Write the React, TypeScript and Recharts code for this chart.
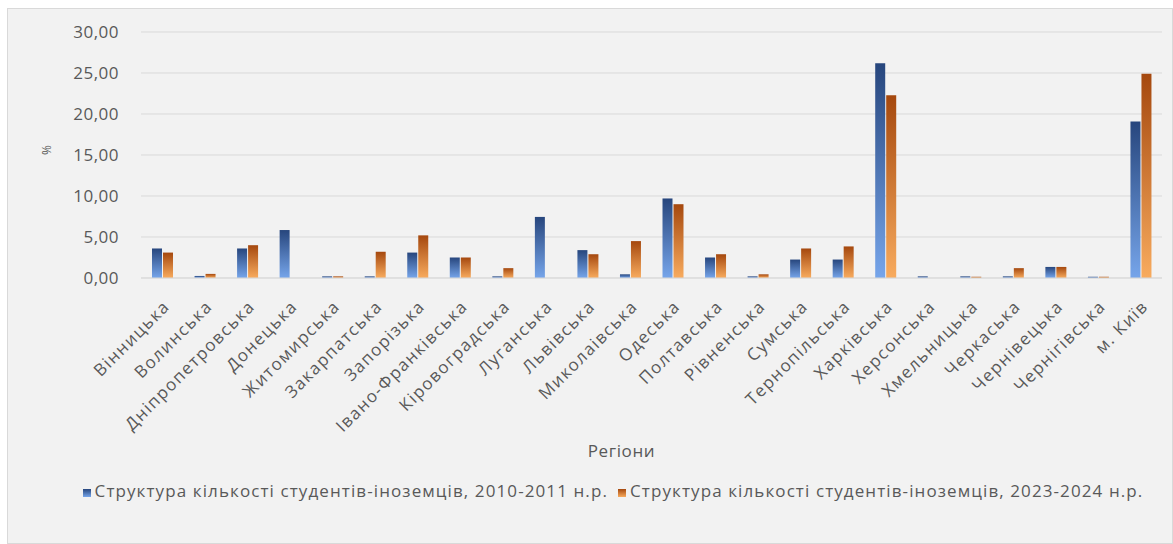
import React from 'react';
import {
  Bar,
  BarChart,
  CartesianGrid,
  Legend,
  XAxis,
  YAxis,
} from 'recharts';

const regions = [
  'Вінницька',
  'Волинська',
  'Дніпропетровська',
  'Донецька',
  'Житомирська',
  'Закарпатська',
  'Запорізька',
  'Івано-Франківська',
  'Кіровоградська',
  'Луганська',
  'Львівська',
  'Миколаівська',
  'Одеська',
  'Полтавська',
  'Рівненська',
  'Сумська',
  'Тернопільська',
  'Харківська',
  'Херсонська',
  'Хмельницька',
  'Черкаська',
  'Чернівецька',
  'Чернігівська',
  'м. Київ',
];

// Частка регіону в загальній кількості студентів-іноземців, %
const share2010 = [
  3.6, 0.25, 3.6, 5.85, 0.2, 0.2, 3.1, 2.5, 0.2, 7.45, 3.4, 0.45, 9.7, 2.5,
  0.2, 2.25, 2.25, 26.2, 0.2, 0.2, 0.2, 1.35, 0.15, 19.1,
];
const share2023 = [
  3.1, 0.5, 4.0, 0, 0.2, 3.2, 5.2, 2.5, 1.2, 0, 2.9, 4.5, 9.0, 2.9, 0.45, 3.6,
  3.85, 22.3, 0, 0.15, 1.2, 1.35, 0.15, 24.9,
];

const yTicks = [0, 5, 10, 15, 20, 25, 30];

const label2010 = 'Структура кількості студентів-іноземців, 2010-2011 н.р.';
const label2023 = 'Структура кількості студентів-іноземців, 2023-2024 н.р.';

const data = regions.map((region, i) => ({
  region,
  y2010: share2010[i],
  y2023: share2023[i],
}));

const FONT = '"Open Sans", "DejaVu Sans", sans-serif';
const INK = '#595959';

const fmt = (v: number) => v.toFixed(2).replace('.', ',');

export default function App() {
  return (
    <div
      style={{
        position: 'absolute',
        left: 7,
        top: 8,
        width: 1166,
        height: 536,
        boxSizing: 'border-box',
        border: '1px solid #d9d9d9',
        background: '#f2f2f2',
        fontFamily: FONT,
      }}
    >
      <BarChart
        width={1164}
        height={534}
        data={data}
        margin={{ top: 23, right: 10, bottom: 75, left: 0 }}
        barGap={1}
        barSize={10}
      >
        <defs>
          <linearGradient id="grad2010" x1="0" y1="0" x2="0" y2="1">
            <stop offset="0%" stopColor="#27467d" />
            <stop offset="100%" stopColor="#76a5ea" />
          </linearGradient>
          <linearGradient id="grad2023" x1="0" y1="0" x2="0" y2="1">
            <stop offset="0%" stopColor="#a5480e" />
            <stop offset="100%" stopColor="#f8ab5e" />
          </linearGradient>
        </defs>
        <CartesianGrid stroke="#d9d9d9" vertical={false} />
        <XAxis
          dataKey="region"
          interval={0}
          height={190}
          tickLine={false}
          axisLine={{ stroke: '#d9d9d9' }}
          tickSize={0}
          tickMargin={21}
          angle={-45}
          textAnchor="end"
          tick={{
            fill: INK,
            fontSize: 17,
            fontFamily: FONT,
            letterSpacing: 1.4,
          }}
          label={{
            value: 'Регіони',
            position: 'insideBottom',
            offset: 11,
            dx: -30,
            fill: INK,
            fontSize: 17,
            fontFamily: FONT,
            letterSpacing: 0.6,
          }}
        />
        <YAxis
          width={133}
          domain={[0, 30]}
          ticks={yTicks}
          tickFormatter={fmt}
          tickLine={false}
          axisLine={false}
          tickSize={0}
          tickMargin={22}
          tick={{
            fill: INK,
            fontSize: 17,
            fontFamily: FONT,
            letterSpacing: 0.5,
          }}
          label={{
            value: '%',
            angle: -90,
            position: 'insideLeft',
            offset: 39,
            fill: INK,
            fontSize: 12,
            fontFamily: FONT,
          }}
        />
        <Legend
          verticalAlign="middle"
          align="center"
          layout="horizontal"
          iconType="square"
          iconSize={8}
          wrapperStyle={{ top: 470, left: 56, width: 1108 }}
          formatter={(value) => (
            <span
              style={{
                color: INK,
                fontSize: 17,
                fontFamily: FONT,
                letterSpacing: 1.1,
              }}
            >
              {value}
            </span>
          )}
        />
        <Bar
          dataKey="y2010"
          name={label2010}
          fill="url(#grad2010)"
          legendType="square"
          isAnimationActive={false}
        />
        <Bar
          dataKey="y2023"
          name={label2023}
          fill="url(#grad2023)"
          legendType="square"
          isAnimationActive={false}
        />
      </BarChart>
    </div>
  );
}
